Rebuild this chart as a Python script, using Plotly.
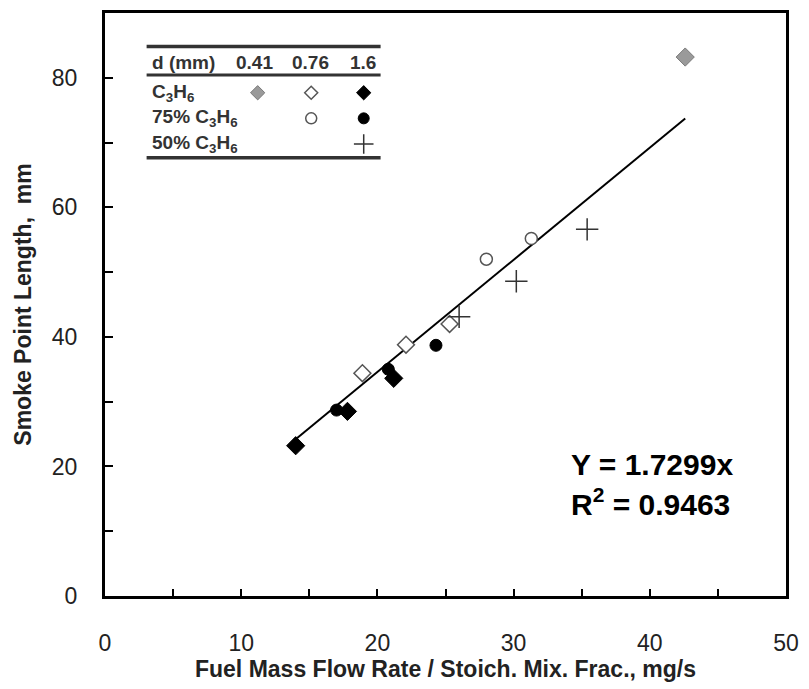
import plotly.graph_objects as go

# ---- data ----
c3h6_041_x = [42.6]
c3h6_041_y = [83.2]
c3h6_076_x = [18.9, 22.1, 25.3]
c3h6_076_y = [34.4, 38.8, 42.0]
c3h6_16_x = [14.0, 17.8, 21.2]
c3h6_16_y = [23.2, 28.5, 33.6]
p75_076_x = [28.0, 31.3]
p75_076_y = [52.0, 55.2]
p75_16_x = [17.0, 20.8, 24.3]
p75_16_y = [28.7, 35.0, 38.7]
p50_16_x = [26.0, 30.2, 35.4]
p50_16_y = [43.1, 48.6, 56.6]
fit_x = [14.0, 42.6]
fit_y = [24.2, 73.7]

x_ticks = [0, 10, 20, 30, 40, 50]
y_ticks = [0, 20, 40, 60, 80]

FONT = "Liberation Sans, Arial, sans-serif"

fig = go.Figure()

fig.add_trace(go.Scatter(x=fit_x, y=fit_y, mode="lines",
                         line=dict(color="black", width=2), showlegend=False))

def pts(x, y, symbol, size, fill, line_color, lw, xaxis="x", yaxis="y"):
    fig.add_trace(go.Scatter(x=x, y=y, mode="markers", xaxis=xaxis, yaxis=yaxis,
                             marker=dict(symbol=symbol, size=size, color=fill,
                                         line=dict(color=line_color, width=lw)),
                             showlegend=False))

pts(c3h6_041_x, c3h6_041_y, "diamond", 14, "#9a9a9a", "#7a7a7a", 1)
pts(c3h6_076_x, c3h6_076_y, "diamond", 13, "white", "#555555", 1.5)
pts(c3h6_16_x, c3h6_16_y, "diamond", 14, "black", "black", 1)
pts(p75_076_x, p75_076_y, "circle", 12, "white", "#555555", 1.5)
pts(p75_16_x, p75_16_y, "circle", 12, "black", "black", 1)
pts(p50_16_x, p50_16_y, "cross-thin", 16, "#333333", "#333333", 1.5)

# ---- table-style legend (overlay axis 0..1) ----
col_x = [0.2242, 0.3028, 0.3799]
row_y = [0.8632, 0.8193, 0.7753]
pts([col_x[0]], [row_y[0]], "diamond", 11, "#9a9a9a", "#7a7a7a", 1, "x2", "y2")
pts([col_x[1]], [row_y[0]], "diamond", 10, "white", "#555555", 1.5, "x2", "y2")
pts([col_x[2]], [row_y[0]], "diamond", 11, "black", "black", 1, "x2", "y2")
pts([col_x[1]], [row_y[1]], "circle", 11, "white", "#555555", 1.5, "x2", "y2")
pts([col_x[2]], [row_y[1]], "circle", 11, "black", "black", 1, "x2", "y2")
pts([col_x[2]], [row_y[2]], "cross-thin", 14, "#333333", "#333333", 1.5, "x2", "y2")

legend_lines = [(0.9426, 3.5), (0.8936, 3), (0.7517, 3.5)]
shapes = [dict(type="line", xref="paper", yref="paper", x0=0.0611, x1=0.4047,
               y0=yy, y1=yy, line=dict(color="#333333", width=w))
          for yy, w in legend_lines]

lfont = dict(family=FONT, size=19, color="#333333")
annos = []
annos.append(dict(xref="paper", yref="paper", x=0.0655, y=0.9155, text="<b>d (mm)</b>",
                  showarrow=False, xanchor="left", yanchor="middle", font=lfont))
for cx, t in zip([0.2198, 0.3013, 0.3785], ["0.41", "0.76", "1.6"]):
    annos.append(dict(xref="paper", yref="paper", x=cx, y=0.9155, text="<b>%s</b>" % t,
                      showarrow=False, xanchor="center", yanchor="middle", font=lfont))
row_labels = ["C<sub>3</sub>H<sub>6</sub>", "75% C<sub>3</sub>H<sub>6</sub>", "50% C<sub>3</sub>H<sub>6</sub>"]
for ry, t in zip(row_y, row_labels):
    annos.append(dict(xref="paper", yref="paper", x=0.0655, y=ry, text="<b>%s</b>" % t,
                      showarrow=False, xanchor="left", yanchor="middle", font=lfont))

efont = dict(family=FONT, size=30, color="black")
annos.append(dict(xref="paper", yref="paper", x=0.681, y=0.2264, text="<b>Y = 1.7299x</b>",
                  showarrow=False, xanchor="left", yanchor="middle", font=efont))
annos.append(dict(xref="paper", yref="paper", x=0.681, y=0.1605,
                  text="<b>R<sup>2</sup> = 0.9463</b>",
                  showarrow=False, xanchor="left", yanchor="middle", font=efont))

tickfont = dict(family=FONT, size=23, color="#222222")
titlefont = dict(family=FONT, size=23, color="#222222")

fig.update_layout(
    width=809, height=689,
    margin=dict(l=105, r=17, t=10, b=87),
    paper_bgcolor="white", plot_bgcolor="white",
    showlegend=False,
    shapes=shapes, annotations=annos,
    xaxis=dict(range=[0, 50], tickvals=x_ticks, ticktext=[str(v) for v in x_ticks],
               ticks="inside", ticklen=7, tickwidth=2, tickcolor="black",
               minor=dict(ticks="inside", dtick=5, ticklen=7, tickwidth=2, tickcolor="black"),
               showline=True, linecolor="black", linewidth=3, mirror=True,
               showgrid=False, zeroline=False, tickfont=tickfont,
               ticklabelstandoff=24,
               title=dict(text="<b>Fuel Mass Flow Rate / Stoich. Mix. Frac., mg/s</b>",
                          font=titlefont, standoff=7)),
    yaxis=dict(range=[0, 90], tickvals=y_ticks, ticktext=[str(v) for v in y_ticks],
               ticks="inside", ticklen=8, tickwidth=2, tickcolor="black",
               minor=dict(ticks="inside", dtick=10, ticklen=8, tickwidth=2, tickcolor="black"),
               showline=True, linecolor="black", linewidth=3, mirror=True,
               showgrid=False, zeroline=False, tickfont=tickfont,
               ticklabelstandoff=20,
               title=dict(text="<b>Smoke Point Length,  mm</b>", font=titlefont, standoff=14)),
    xaxis2=dict(range=[0, 1], overlaying="x", visible=False, domain=[0, 1]),
    yaxis2=dict(range=[0, 1], overlaying="y", visible=False, domain=[0, 1]),
)

fig.write_html("out.html")
